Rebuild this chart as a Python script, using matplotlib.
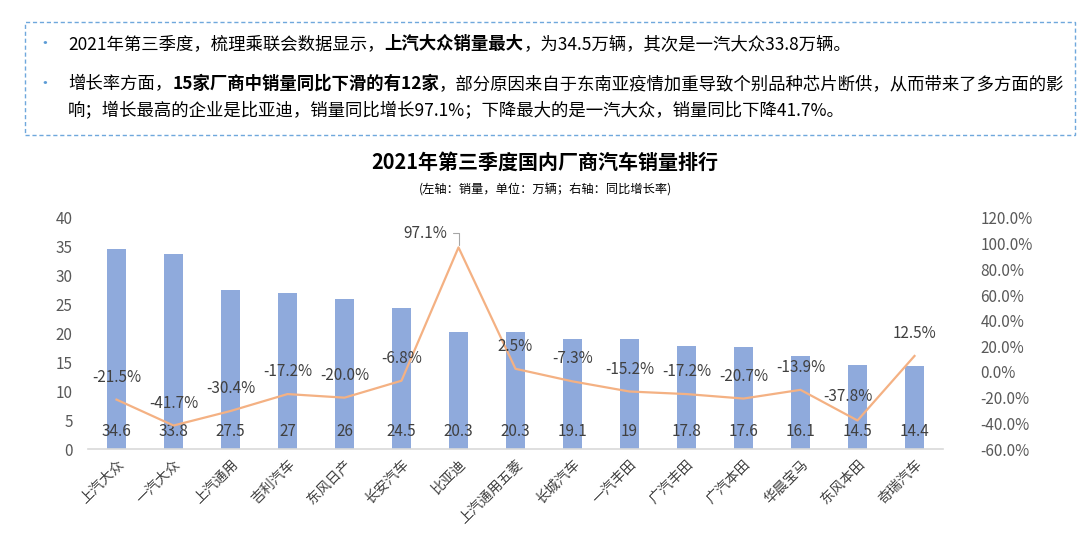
import matplotlib.pyplot as plt
from matplotlib.patches import Rectangle
import numpy as np

plt.rcParams['font.family'] = ['Noto Sans CJK SC', 'DejaVu Sans']

# chart data
makers = ["上汽大众", "一汽大众", "上汽通用", "吉利汽车", "东风日产", "长安汽车", "比亚迪",
          "上汽通用五菱", "长城汽车", "一汽丰田", "广汽丰田", "广汽本田", "华晨宝马", "东风本田", "奇瑞汽车"]
sales = [34.6, 33.8, 27.5, 27, 26, 24.5, 20.3, 20.3, 19.1, 19, 17.8, 17.6, 16.1, 14.5, 14.4]
sales_labels = ["34.6", "33.8", "27.5", "27", "26", "24.5", "20.3", "20.3", "19.1", "19",
                "17.8", "17.6", "16.1", "14.5", "14.4"]
growth = [-21.5, -41.7, -30.4, -17.2, -20.0, -6.8, 97.1, 2.5, -7.3, -15.2, -17.2, -20.7, -13.9, -37.8, 12.5]

left_ticks = [0, 5, 10, 15, 20, 25, 30, 35, 40]
right_ticks = [-60, -40, -20, 0, 20, 40, 60, 80, 100, 120]

bullet_lines = [
    [("2021年第三季度，梳理乘联会数据显示，", False), ("上汽大众销量最大", True),
     ("，为34.5万辆，其次是一汽大众33.8万辆。", False)],
    [("增长率方面，", False), ("15家厂商中销量同比下滑的有12家", True),
     ("，部分原因来自于东南亚疫情加重导致个别品种芯片断供，从而带来了多方面的影", False)],
    [("响；增长最高的企业是比亚迪，销量同比增长97.1%；下降最大的是一汽大众，销量同比下降41.7%。", False)],
]

BAR_COLOR = "#8FAADC"
LINE_COLOR = "#F4B183"
TEXT_COLOR = "#404040"

W, H = 1092, 552
fig = plt.figure(figsize=(W / 100, H / 100), dpi=100)

# dashed summary box
box = Rectangle((25 / W, 1 - 135 / H), 1050 / W, 113 / H, transform=fig.transFigure,
                fill=False, edgecolor="#6FA8DC", linestyle=(0, (3, 2)), linewidth=1.0)
fig.patches.append(box)

renderer = fig.canvas.get_renderer()
line_y = [44, 84, 111]
for i, parts in enumerate(bullet_lines):
    y = 1 - line_y[i] / H
    if i < 2:
        fig.text(36 / W, y, "•", color="#5B9BD5", fontsize=12, va="center", ha="left")
    x = 68 / W
    for s, bold in parts:
        t = fig.text(x, y, s, fontsize=12.5, va="center", ha="left", color="#000000",
                     fontweight="bold" if bold else "normal")
        bb = t.get_window_extent(renderer)
        x += bb.width / W

# chart title
fig.text(545 / W, 1 - 162 / H, "2021年第三季度国内厂商汽车销量排行", fontsize=14.4,
         fontweight="bold", ha="center", va="center", color="#000000")
fig.text(545 / W, 1 - 190 / H, "(左轴：销量，单位：万辆；右轴：同比增长率)", fontsize=8.8,
         ha="center", va="center", color="#000000")

ax = fig.add_axes([88 / W, 1 - 449 / H, 855 / W, 231 / H])
x = np.arange(len(makers))
ax.bar(x, sales, width=0.35, color=BAR_COLOR, zorder=2)
ax.set_xlim(-0.5, len(makers) - 0.5)
ax.set_ylim(0, 40)
ax.set_yticks(left_ticks)
ax.tick_params(axis="y", length=0, labelsize=11, labelcolor="#595959", pad=11)
ax.set_xticks(x)
ax.set_xticklabels(makers, rotation=45, ha="right", rotation_mode="anchor", fontsize=10,
                   color="#404040")
ax.tick_params(axis="x", length=0, pad=6)
for side in ["top", "right", "left"]:
    ax.spines[side].set_visible(False)
ax.spines["bottom"].set_color("#D9D9D9")
ax.spines["bottom"].set_linewidth(1.2)

for xi, lab in zip(x, sales_labels):
    ax.text(xi, 3.0, lab, ha="center", va="center", fontsize=11, color=TEXT_COLOR, zorder=4)

ax2 = ax.twinx()
ax2.plot(x, growth, color=LINE_COLOR, linewidth=1.6, zorder=3)
ax2.set_ylim(-60, 120)
ax2.set_yticks(right_ticks)
ax2.set_yticklabels([f"{v:.1f}%" for v in right_ticks])
ax2.tick_params(axis="y", length=0, labelsize=11, labelcolor="#595959", pad=27)
for side in ["top", "right", "left", "bottom"]:
    ax2.spines[side].set_visible(False)

for xi, g in zip(x, growth):
    lab = f"{g:.1f}%"
    if g == max(growth):
        ax2.annotate(lab, (xi, g), xytext=(-8, 10), textcoords="offset points",
                     ha="right", va="center", fontsize=11, color=TEXT_COLOR,
                     arrowprops=dict(arrowstyle="-", color="#A6A6A6", lw=0.8,
                                     connectionstyle="angle,angleA=0,angleB=90"))
    elif g == min(growth[12:]):
        ax2.annotate(lab, (xi, g), xytext=(-7, 11), textcoords="offset points",
                     ha="center", va="bottom", fontsize=11, color=TEXT_COLOR)
    else:
        ax2.annotate(lab, (xi, g), xytext=(0, 10), textcoords="offset points",
                     ha="center", va="bottom", fontsize=11, color=TEXT_COLOR)

fig.savefig("out.png", dpi=100)
